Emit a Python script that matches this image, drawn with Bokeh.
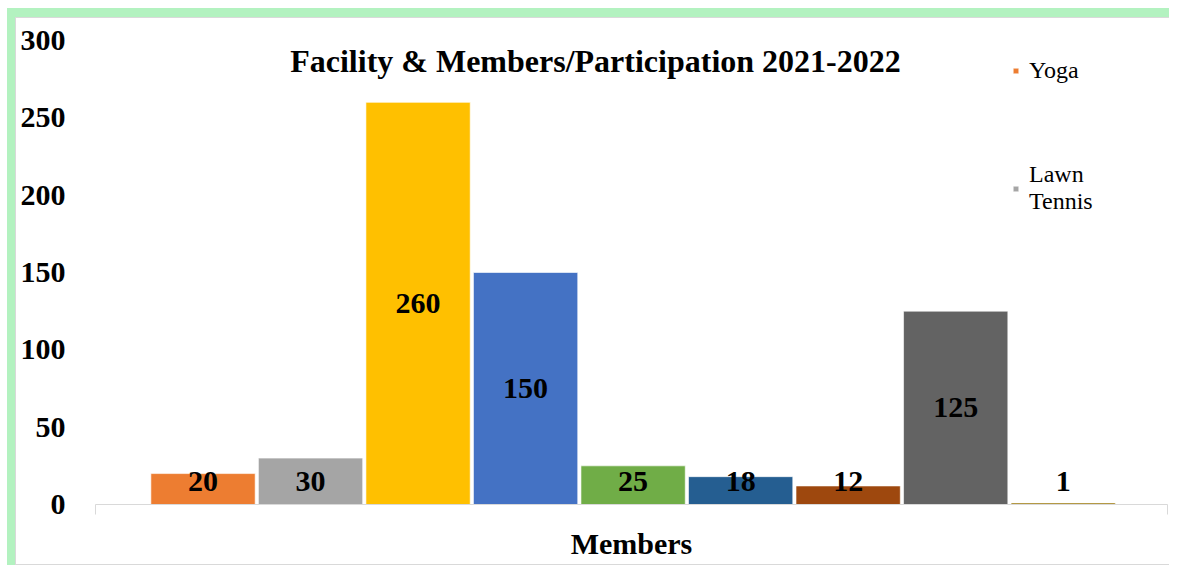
from bokeh.plotting import figure
from bokeh.models import Range1d, FixedTicker, Label, Legend, LegendItem, ColumnDataSource, LabelSet
from bokeh.embed import file_html
from bokeh.resources import INLINE

# ---- data ----
facilities = ["Yoga", "Lawn Tennis", "Facility 3", "Facility 4", "Facility 5",
              "Facility 6", "Facility 7", "Facility 8", "Facility 9"]
members = [20, 30, 260, 150, 25, 18, 12, 125, 1]
colors = ["#ED7D31", "#A5A5A5", "#FFC000", "#4472C4", "#70AD47",
          "#255E91", "#9E480E", "#636363", "#997300"]
legend_labels = ["Yoga", "Lawn\nTennis"]
y_ticks = [0, 50, 100, 150, 200, 250, 300]
title_text = "Facility & Members/Participation 2021-2022"
x_label = "Members"

FONT = "Liberation Serif"

xs = list(range(len(members)))
label_y = [v / 2 if v >= 40 else 15 for v in members]
src = ColumnDataSource(dict(x=xs, top=members, color=colors, name=facilities,
                            ly=label_y, txt=[str(v) for v in members]))

x0, x1 = -1.0, 8.97
p = figure(width=1162, height=557, output_backend="svg", toolbar_location=None,
           x_range=Range1d(x0, x1), y_range=Range1d(0, 300),
           min_border_left=80, min_border_right=10, min_border_top=23, min_border_bottom=70,
           border_fill_color=None, background_fill_color=None, outline_line_color=None,
           styles={"margin-left": "7px", "margin-top": "8px",
                   "border-left": "8px solid #B3F2C0", "border-top": "9px solid #B3F2C0",
                   "background-color": "white",
                   "box-shadow": "inset 1px 1px 0 #D9D9D9, inset 0 -1px 0 #D9D9D9"})

r = p.vbar(x="x", top="top", width=0.97, bottom=0, source=src,
           fill_color="color", line_color="white", line_alpha=0.6, line_width=1)

p.add_layout(LabelSet(x="x", y="ly", text="txt", source=src, text_align="center",
                      text_baseline="middle", text_font=FONT, text_font_style="bold",
                      text_font_size="30px", text_color="black"))

p.add_layout(Label(x=3.65, y=287, text=title_text, text_align="center",
                   text_baseline="middle", text_font=FONT, text_font_style="bold",
                   text_font_size="32px", text_color="black"))

# axes
p.xgrid.visible = False
p.ygrid.visible = False
p.yaxis.ticker = FixedTicker(ticks=y_ticks)
p.yaxis.axis_line_color = None
p.yaxis.major_tick_line_color = None
p.yaxis.major_tick_in = 0
p.yaxis.major_tick_out = 0
p.yaxis.minor_tick_line_color = None
p.yaxis.major_label_standoff = 30
p.yaxis.major_label_text_font = FONT
p.yaxis.major_label_text_font_style = "bold"
p.yaxis.major_label_text_font_size = "30px"
p.yaxis.major_label_text_color = "black"

p.xaxis.ticker = FixedTicker(ticks=[x0, x1])
p.xaxis.axis_line_color = "#D9D9D9"
p.xaxis.major_tick_line_color = "#D9D9D9"
p.xaxis.major_tick_in = 0
p.xaxis.major_tick_out = 10
p.xaxis.minor_tick_line_color = None
p.xaxis.major_label_overrides = {x0: "", x1: ""}
p.xaxis.major_label_text_font_size = "1px"
p.xaxis.major_label_standoff = 0
p.xaxis.axis_label = x_label
p.xaxis.axis_label_text_font = FONT
p.xaxis.axis_label_text_font_style = "bold"
p.xaxis.axis_label_text_font_size = "30px"
p.xaxis.axis_label_text_color = "black"
p.xaxis.axis_label_standoff = 12

# legend (only first two entries shown, as in the original)
items = [LegendItem(label=legend_labels[i], renderers=[r], index=i) for i in range(2)]
legend = Legend(items=items, location=(917, 289), padding=0, margin=0,
                spacing=77, glyph_width=7, glyph_height=7, label_standoff=10,
                label_text_font=FONT, label_text_font_size="24px",
                label_text_color="black", background_fill_alpha=0,
                border_line_color=None)
p.add_layout(legend)

open("out.html", "w").write(file_html(p, INLINE))
